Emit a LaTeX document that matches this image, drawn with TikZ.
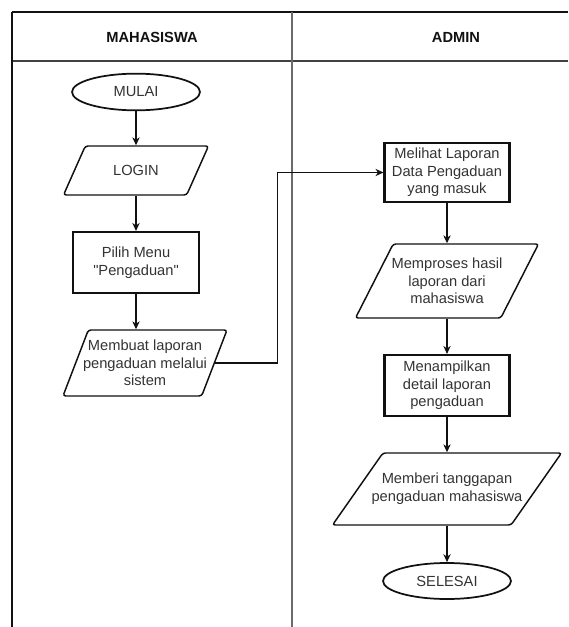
\documentclass[tikz,border=0pt]{standalone}
\usepackage{fontspec}
\newfontfamily\arialike{Liberation Sans}
\usetikzlibrary{arrows.meta,shapes.geometric,positioning}
\definecolor{ink}{HTML}{111111}
\definecolor{txt}{HTML}{333333}
\definecolor{lanegray}{HTML}{6A6A6A}

\begin{document}
\begin{tikzpicture}[x=0.75pt,y=-0.75pt,
  font=\arialike\fontsize{11}{13.2}\selectfont,
  head/.style={font=\arialike\fontsize{11}{13.2}\selectfont\bfseries,text=ink},
  term/.style={ellipse,draw=ink,line width=1.3pt,minimum width=96pt,
               minimum height=27.5pt,inner sep=0pt,text=txt},
  proc/.style={rectangle,draw=ink,line width=1.6pt,minimum width=94pt,
               minimum height=45pt,inner sep=1pt,align=center,text=txt},
  io/.style={trapezium,trapezium stretches body,draw=ink,line width=1.1pt,
             rounded corners=2pt,inner sep=0pt,text depth=0pt},
  iotext/.style={align=center,text=txt,inner sep=0pt},
  flow/.style={-{Stealth[length=6pt,width=5.5pt]},line width=0.8pt,ink},
  frame/.style={line width=1.1pt,ink}
]
\useasboundingbox (0,0) rectangle (568,627);
% swimlanes
\draw[frame] (12,12) -- (568,12);
\draw[line width=0.8pt,ink!80] (12,61) -- (568,61);
\draw[frame] (12,12) -- (12,627);
\draw[line width=1.7pt,lanegray] (292,12) -- (292,627);
\node[head] (hmhs) at (152,37) {MAHASISWA};
\node[head] (hadm) at (456,37) {ADMIN};

% mahasiswa
\node[term] (mulai) at (136,92) {MULAI};
\node[io,trapezium left angle=66,trapezium right angle=114,
      minimum width=108.75pt,text height=36.75pt,
      label={[iotext]center:LOGIN}] (login) at (136,170.5) {};
\node[proc,minimum width=94.5pt,minimum height=45.75pt] (pilih) at (136,262.5)
  {Pilih Menu\\"Pengaduan"};
\node[io,trapezium left angle=69,trapezium right angle=111,
      minimum width=123pt,text height=49.5pt,
      label={[iotext]center:Membuat laporan\\pengaduan melalui\\sistem}]
  (membuat) at (145,363) {};

% admin
\node[proc,minimum width=93.75pt,minimum height=44.25pt] (melihat) at (447,172.5)
  {Melihat Laporan\\Data Pengaduan\\yang masuk};
\node[io,trapezium left angle=63,trapezium right angle=117,
      minimum width=137.25pt,text height=55.5pt,
      label={[iotext]center:Memproses hasil\\laporan dari\\mahasiswa}]
  (proses) at (447,281) {};
\node[proc,minimum width=93.75pt,minimum height=45.75pt] (tampil) at (447,385.5)
  {Menampilkan\\detail laporan\\pengaduan};
\node[io,trapezium left angle=55,trapezium right angle=125,
      minimum width=171.75pt,text height=54pt,
      label={[iotext]center:Memberi tanggapan\\pengaduan mahasiswa}]
  (memberi) at (447,489) {};
\node[term,minimum height=27pt] (selesai) at (447,581) {SELESAI};

\draw[flow] (mulai) -- (login);
\draw[flow] (login) -- (pilih);
\draw[flow] (pilih.south) -- (pilih.south |- membuat.north);
\draw[flow] (membuat.east) -- ++(62,0) |- (melihat.west);
\draw[flow] (melihat) -- (proses);
\draw[flow] (proses) -- (tampil);
\draw[flow] (tampil) -- (memberi);
\draw[flow] (memberi) -- (selesai);
\end{tikzpicture}
\end{document}
